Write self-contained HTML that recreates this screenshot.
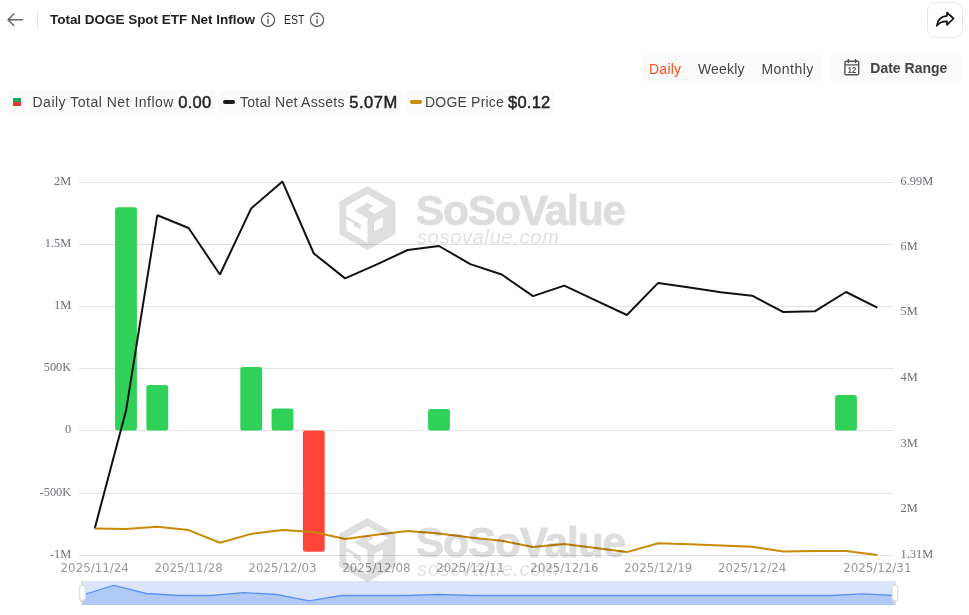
<!DOCTYPE html>
<html lang="en"><head><meta charset="utf-8"><title>Total DOGE Spot ETF Net Inflow</title>
<style>
html,body{margin:0;padding:0;background:#fff;}
body{width:969px;height:615px;position:relative;overflow:hidden;font-family:"Liberation Sans",sans-serif;color:#222;}
.abs{position:absolute;white-space:nowrap;}
#chart{position:absolute;left:0;top:0;}
.ys{font-family:"Liberation Serif",serif;font-size:13.5px;fill:#6e7079;}
.xs{font-family:"DejaVu Sans",sans-serif;font-size:11.85px;fill:#999;}
.wm1{font-family:"Liberation Sans",sans-serif;font-weight:bold;font-size:42.5px;letter-spacing:-1.15px;fill:#000;stroke:#000;stroke-width:0.9px;stroke-linejoin:round;}
.wm2{font-family:"Liberation Sans",sans-serif;font-style:italic;font-size:20px;letter-spacing:0.7px;fill:#000;}
.chip{position:absolute;top:90px;height:24px;background:#fafafa;border-radius:4px;}
.lab{position:absolute;white-space:nowrap;font-size:14px;color:#444;line-height:16px;}
.val{position:absolute;white-space:nowrap;font-size:16.5px;color:#222;line-height:18px;-webkit-text-stroke:0.45px #222;}
</style></head><body>
<svg id="chart" width="969" height="615" viewBox="0 0 969 615">
<line x1="79.0" x2="893.0" y1="182.5" y2="182.5" stroke="#e2e2e2" stroke-width="1"/>
<line x1="79.0" x2="893.0" y1="244.5" y2="244.5" stroke="#e2e2e2" stroke-width="1"/>
<line x1="79.0" x2="893.0" y1="306.5" y2="306.5" stroke="#e2e2e2" stroke-width="1"/>
<line x1="79.0" x2="893.0" y1="368.5" y2="368.5" stroke="#e2e2e2" stroke-width="1"/>
<line x1="79.0" x2="893.0" y1="430.5" y2="430.5" stroke="#e2e2e2" stroke-width="1"/>
<line x1="79.0" x2="893.0" y1="493.5" y2="493.5" stroke="#e2e2e2" stroke-width="1"/>
<line x1="79.0" x2="893.0" y1="555.5" y2="555.5" stroke="#e2e2e2" stroke-width="1"/>
<rect x="115.1" y="207.2" width="21.8" height="223.3" rx="2.5" fill="#30d158"/>
<rect x="146.4" y="385.0" width="21.8" height="45.5" rx="2.5" fill="#30d158"/>
<rect x="240.3" y="366.9" width="21.8" height="63.6" rx="2.5" fill="#30d158"/>
<rect x="271.6" y="408.5" width="21.8" height="22.0" rx="2.5" fill="#30d158"/>
<rect x="302.9" y="430.5" width="21.8" height="121.2" rx="2.5" fill="#ff453a"/>
<rect x="428.1" y="409.0" width="21.8" height="21.5" rx="2.5" fill="#30d158"/>
<rect x="835.1" y="395.0" width="21.8" height="35.5" rx="2.5" fill="#30d158"/>
<polyline points="94.7,528.6 126.0,410.8 157.3,215.3 188.6,228.0 219.9,274.5 251.2,208.4 282.5,181.6 313.8,253.5 345.1,278.4 376.4,264.6 407.7,250.0 439.0,246.0 470.3,264.1 501.7,274.5 533.0,296.1 564.3,285.6 595.6,300.3 626.9,315.0 658.2,282.9 689.5,287.6 720.8,292.3 752.1,295.7 783.4,312.1 814.7,311.3 846.0,292.0 877.3,307.6" fill="none" stroke="#111" stroke-width="2" stroke-linejoin="bevel" stroke-linecap="butt"/>
<polyline points="94.7,528.6 126.0,528.9 157.3,526.7 188.6,530.1 219.9,542.8 251.2,533.9 282.5,530.1 313.8,532.1 345.1,539.0 376.4,534.8 407.7,531.1 439.0,533.6 470.3,537.5 501.7,540.7 533.0,547.0 564.3,544.0 595.6,547.9 626.9,552.1 658.2,543.2 689.5,544.2 720.8,545.4 752.1,546.7 783.4,551.4 814.7,551.1 846.0,550.9 877.3,555.1" fill="none" stroke="#c98a05" stroke-width="2" stroke-linejoin="bevel"/>
<text transform="translate(71.2,184.7) scale(0.915,1)" text-anchor="end" class="ys">2M</text>
<text transform="translate(71.2,246.7) scale(0.915,1)" text-anchor="end" class="ys">1.5M</text>
<text transform="translate(71.2,308.7) scale(0.915,1)" text-anchor="end" class="ys">1M</text>
<text transform="translate(71.2,370.7) scale(0.915,1)" text-anchor="end" class="ys">500K</text>
<text transform="translate(71.2,432.7) scale(0.915,1)" text-anchor="end" class="ys">0</text>
<text transform="translate(71.2,495.7) scale(0.915,1)" text-anchor="end" class="ys">-500K</text>
<text transform="translate(71.2,557.7) scale(0.915,1)" text-anchor="end" class="ys">-1M</text>
<text transform="translate(900.6,184.7) scale(0.915,1)" class="ys">6.99M</text>
<text transform="translate(900.6,249.7) scale(0.915,1)" class="ys">6M</text>
<text transform="translate(900.6,315.4) scale(0.915,1)" class="ys">5M</text>
<text transform="translate(900.6,381.1) scale(0.915,1)" class="ys">4M</text>
<text transform="translate(900.6,446.7) scale(0.915,1)" class="ys">3M</text>
<text transform="translate(900.6,512.4) scale(0.915,1)" class="ys">2M</text>
<text transform="translate(900.6,557.7) scale(0.915,1)" class="ys">1.31M</text>
<text x="94.7" y="572.1" text-anchor="middle" class="xs">2025/11/24</text>
<text x="188.6" y="572.1" text-anchor="middle" class="xs">2025/11/28</text>
<text x="282.5" y="572.1" text-anchor="middle" class="xs">2025/12/03</text>
<text x="376.4" y="572.1" text-anchor="middle" class="xs">2025/12/08</text>
<text x="470.3" y="572.1" text-anchor="middle" class="xs">2025/12/11</text>
<text x="564.3" y="572.1" text-anchor="middle" class="xs">2025/12/16</text>
<text x="658.2" y="572.1" text-anchor="middle" class="xs">2025/12/19</text>
<text x="752.1" y="572.1" text-anchor="middle" class="xs">2025/12/24</text>
<text x="877.3" y="572.1" text-anchor="middle" class="xs">2025/12/31</text>
<rect x="81.0" y="581.0" width="814.4" height="24.0" fill="#d9e4fa"/>
<polygon points="81.0,605.0 81.0,595.5 113.6,585.4 146.2,593.5 178.7,595.5 211.3,595.5 243.9,592.6 276.5,594.5 309.0,600.9 341.6,595.5 374.2,595.5 406.8,595.5 439.3,594.5 471.9,595.5 504.5,595.5 537.1,595.5 569.6,595.5 602.2,595.5 634.8,595.5 667.4,595.5 699.9,595.5 732.5,595.5 765.1,595.5 797.7,595.5 830.2,595.5 862.8,593.9 895.4,595.5 895.4,605.0" fill="#b0c9f7"/>
<polyline points="81.0,595.5 113.6,585.4 146.2,593.5 178.7,595.5 211.3,595.5 243.9,592.6 276.5,594.5 309.0,600.9 341.6,595.5 374.2,595.5 406.8,595.5 439.3,594.5 471.9,595.5 504.5,595.5 537.1,595.5 569.6,595.5 602.2,595.5 634.8,595.5 667.4,595.5 699.9,595.5 732.5,595.5 765.1,595.5 797.7,595.5 830.2,595.5 862.8,593.9 895.4,595.5" fill="none" stroke="#5a93f5" stroke-width="1.3"/>
<rect x="81.0" y="581.0" width="2" height="24.0" fill="#d6dbe6"/>
<rect x="79.7" y="585.2" width="5.6" height="15.2" rx="2.5" fill="#fff" stroke="#dcdcdc" stroke-width="1.2"/>
<rect x="893.4" y="581.0" width="2" height="24.0" fill="#d6dbe6"/>
<rect x="892.1" y="585.2" width="5.6" height="15.2" rx="2.5" fill="#fff" stroke="#dcdcdc" stroke-width="1.2"/>
<path d="M367.39,185.88 L395.35,201.68 L395.35,234.28 L367.39,250.31 L339.43,234.28 L339.43,201.68Z M367.39,193.95 L388.06,206.10 L375.13,213.84 L368.50,210.30 L368.50,208.98 L373.47,206.10 L367.39,202.57 L354.13,210.52 L367.39,218.26 L367.39,242.57 L346.39,230.41 L346.39,206.10Z M346.39,216.05 L360.76,224.34 L360.76,229.86 L353.58,225.77 L353.58,222.90 L346.39,219.14Z M374.02,222.13 L382.86,217.15 L382.86,226.55 L374.02,231.52Z " fill="#000" fill-opacity="0.13" fill-rule="evenodd"/>
<g opacity="0.13"><text x="415.7" y="224.6" class="wm1">SoSoValue</text></g>
<g opacity="0.12"><text x="417" y="244.3" class="wm2">sosovalue.com</text></g>
<path d="M367.39,517.88 L395.35,533.68 L395.35,566.28 L367.39,582.31 L339.43,566.28 L339.43,533.68Z M367.39,525.95 L388.06,538.10 L375.13,545.84 L368.50,542.30 L368.50,540.98 L373.47,538.10 L367.39,534.57 L354.13,542.52 L367.39,550.26 L367.39,574.57 L346.39,562.41 L346.39,538.10Z M346.39,548.05 L360.76,556.34 L360.76,561.86 L353.58,557.77 L353.58,554.90 L346.39,551.14Z M374.02,554.13 L382.86,549.15 L382.86,558.55 L374.02,563.52Z " fill="#000" fill-opacity="0.13" fill-rule="evenodd"/>
<g opacity="0.13"><text x="415.7" y="556.6" class="wm1">SoSoValue</text></g>
<g opacity="0.12"><text x="417" y="576.3" class="wm2">sosovalue.com</text></g>
</svg>

<!-- header -->
<svg class="abs" style="left:0;top:0" width="340" height="40" viewBox="0 0 340 40">
  <path d="M22.5 19.8H8 M13.8 14 L8 19.8 L13.8 25.6" fill="none" stroke="#666" stroke-width="1.4" stroke-linecap="round" stroke-linejoin="round"/>
  <line x1="37.5" x2="37.5" y1="10" y2="30" stroke="#e2e2e2" stroke-width="1"/>
  <g fill="none" stroke="#555" stroke-width="1.2">
    <circle cx="268" cy="19.8" r="6.6"/><circle cx="317" cy="19.8" r="6.6"/>
  </g>
  <g fill="#555">
    <rect x="267.4" y="18.6" width="1.3" height="5.2"/><circle cx="268" cy="16.4" r="0.9"/>
    <rect x="316.4" y="18.6" width="1.3" height="5.2"/><circle cx="317" cy="16.4" r="0.9"/>
  </g>
</svg>
<div class="abs" id="title" style="left:50px;top:11px;font-size:13.5px;font-weight:bold;line-height:18px;color:#222;letter-spacing:-0.03px;">Total DOGE Spot ETF Net Inflow</div>
<div class="abs" id="est" style="left:284px;top:11.5px;font-size:12.5px;line-height:16px;color:#222;transform:scaleX(0.84);transform-origin:0 0;">EST</div>

<!-- share button -->
<div class="abs" style="left:927px;top:2px;width:34px;height:34px;border:1px solid #e6e6e6;border-radius:9px;background:#fff;"></div>
<svg class="abs" style="left:927px;top:2px" width="36" height="36" viewBox="927 2 36 36">
  <path d="M947 12.6 L953.6 18.5 L947 24.9 L947 21.4 C942.5 21.2 939.3 22.6 936.8 25.8 C937.4 20.2 941 16.3 947 15.8 Z" fill="none" stroke="#111" stroke-width="1.7" stroke-linejoin="round"/>
</svg>

<!-- tabs -->
<div class="abs" style="left:641px;top:54px;width:181px;height:28px;background:#fafafa;border-radius:5px;"></div>
<div class="abs" id="t1" style="letter-spacing:0.25px;left:649px;top:59.5px;font-size:14px;line-height:18px;color:#ff4f20;">Daily</div>
<div class="abs" id="t2" style="letter-spacing:0.15px;left:698px;top:59.5px;font-size:14px;line-height:18px;color:#444;">Weekly</div>
<div class="abs" id="t3" style="letter-spacing:0.45px;left:761.5px;top:59.5px;font-size:14px;line-height:18px;color:#444;">Monthly</div>

<!-- date range -->
<div class="abs" style="left:830px;top:54px;width:133px;height:28px;background:#fafafa;border-radius:5px;"></div>
<svg class="abs" style="left:840px;top:54px" width="28" height="28" viewBox="840 54 28 28">
  <rect x="844.9" y="61.3" width="13.8" height="13.5" rx="1.2" fill="none" stroke="#555" stroke-width="1.4"/>
  <line x1="844.9" x2="858.7" y1="64.9" y2="64.9" stroke="#555" stroke-width="1.3"/>
  <line x1="848.4" x2="848.4" y1="59.6" y2="62.6" stroke="#555" stroke-width="1.5" stroke-linecap="round"/>
  <line x1="855.5" x2="855.5" y1="59.6" y2="62.6" stroke="#555" stroke-width="1.5" stroke-linecap="round"/>
  <text transform="translate(852,72.7) scale(0.88,1)" text-anchor="middle" font-family="Liberation Sans, sans-serif" font-weight="bold" font-size="8.5" fill="#444" style="text-rendering:geometricPrecision">12</text>
</svg>
<div class="abs" id="dr" style="left:870.3px;top:59.4px;font-size:14px;font-weight:bold;line-height:18px;color:#444;">Date Range</div>

<!-- legend -->
<div class="chip" style="left:9px;width:206px;"></div>
<div class="chip" style="left:219px;width:182px;"></div>
<div class="chip" style="left:406px;width:149px;"></div>
<div class="abs" style="left:13px;top:98px;width:8px;height:4px;background:#1fa45c;"></div>
<div class="abs" style="left:13px;top:102px;width:8px;height:4px;background:#e5352f;"></div>
<div class="abs" style="left:223px;top:100px;width:12px;height:4px;border-radius:2px;background:#1a1a1a;"></div>
<div class="abs" style="left:410px;top:100px;width:12px;height:4px;border-radius:2px;background:#c98a05;"></div>
<div class="lab" id="l1" style="left:32.5px;top:94.3px;letter-spacing:0.5px;">Daily Total Net Inflow</div>
<div class="val" id="v1" style="left:178.3px;top:93px;letter-spacing:0.25px;">0.00</div>
<div class="lab" id="l2" style="left:240px;top:94.3px;letter-spacing:0.27px;">Total Net Assets</div>
<div class="val" id="v2" style="left:349.3px;top:93px;letter-spacing:0.5px;">5.07M</div>
<div class="lab" id="l3" style="left:425px;top:94.3px;letter-spacing:0.2px;">DOGE Price</div>
<div class="val" id="v3" style="left:508px;top:93px;letter-spacing:0.25px;">$0.12</div>
</body></html>
